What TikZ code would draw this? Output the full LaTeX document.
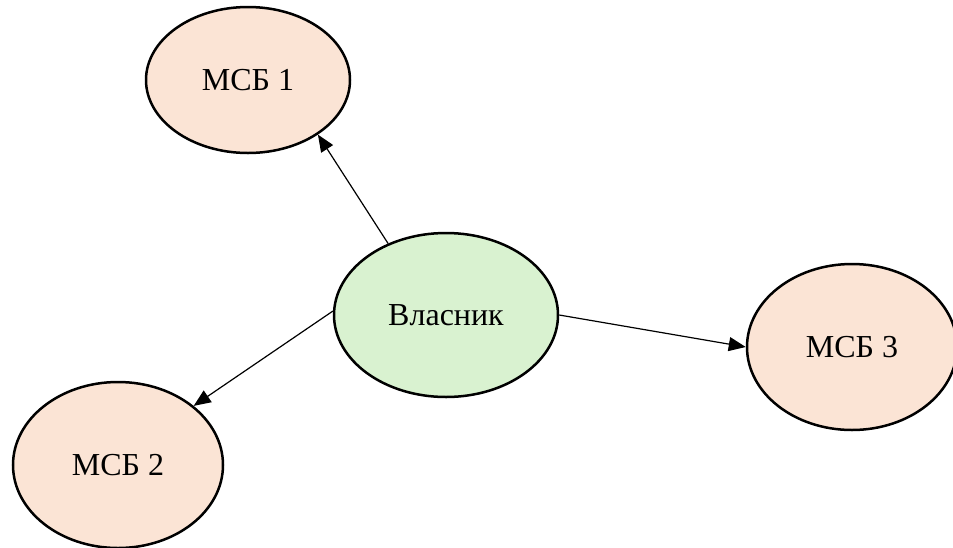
\documentclass[tikz,border=0pt]{standalone}
\usepackage{fontspec}
\setmainfont{Liberation Serif}
\usetikzlibrary{shapes.geometric,arrows.meta}
\definecolor{peach}{HTML}{FBE4D5}
\definecolor{pgreen}{HTML}{D9F2D0}
\begin{document}
\begin{tikzpicture}[x=1pt,y=-1pt,
  oval/.style={ellipse,draw=black,line width=2.5pt,inner sep=0pt,font=\fontsize{32}{36}\selectfont},
  link/.style={draw=black,line width=1.2pt,-{Triangle[length=17pt,width=14pt]}}]
\useasboundingbox (0,0) rectangle (953,547);
\node[oval,fill=peach,minimum width=204pt,minimum height=146pt] (m1) at (248,80) {МСБ 1};
\node[oval,fill=pgreen,minimum width=224pt,minimum height=164pt] (v) at (446,315) {Власник};
\node[oval,fill=peach,minimum width=210pt,minimum height=166pt] (m3) at (852,347) {МСБ 3};
\node[oval,fill=peach,minimum width=210pt,minimum height=166pt] (m2) at (118,465) {МСБ 2};
\draw[link] (v.129) -- (m1.-38);
\draw[link] (v.178) -- (m2.38);
\draw[link] (v.-0.5) -- (m3.180);
\end{tikzpicture}
\end{document}
